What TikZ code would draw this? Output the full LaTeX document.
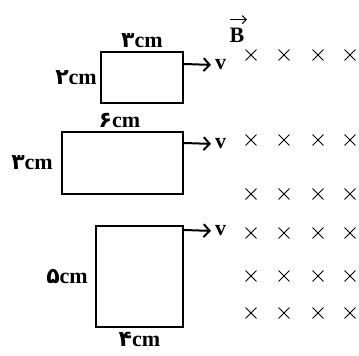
\documentclass[tikz,border=0pt]{standalone}
\usepackage{fontspec}
\setmainfont{Liberation Serif}
\newfontfamily\pdigfont{DejaVu Sans}
\newcommand\pdig[1]{{\pdigfont #1}}
\usetikzlibrary{positioning,arrows.meta,shapes.misc}
\begin{document}
\begin{tikzpicture}[x=1pt,y=1pt,
    loopbox/.style={draw,line width=2pt,inner sep=0pt},
    lbl/.style={font=\fontsize{22}{22}\selectfont\bfseries,inner sep=1pt},
    vel/.style={line width=2pt,-{Straight Barb[length=6pt,width=13pt,line width=2pt]}},
    fieldx/.style={cross out,draw,line width=0.9pt,minimum size=10pt,inner sep=0pt}]
    \useasboundingbox (0,0) rectangle (359,356);
    % loops
    \node[loopbox,minimum width=82pt,minimum height=51pt] (r1) at (142,278.5) {};
    \node[loopbox,minimum width=121pt,minimum height=62pt] (r2) at (122.5,193) {};
    \node[loopbox,minimum width=87pt,minimum height=101pt] (r3) at (139.5,79.5) {};
    % sizes
    \node[lbl,above=2pt of r1] (w1) {\pdig{۳}cm};
    \node[lbl,left=2pt of r1] (h1) {\pdig{۲}cm};
    \node[lbl,above=2pt of r2,xshift=-3pt] (w2) {\pdig{۶}cm};
    \node[lbl,left=7pt of r2] (h2) {\pdig{۳}cm};
    \node[lbl,left=6pt of r3] (h3) {\pdig{۵}cm};
    \node[lbl,below=3pt of r3] (w3) {\pdig{۴}cm};
    % velocities
    \coordinate (a1) at ([yshift=-13pt]r1.north east);
    \coordinate (a2) at ([yshift=-12pt]r2.north east);
    \coordinate (a3) at ([yshift=-5pt]r3.north east);
    \node[lbl,anchor=west] (v1) at (214,291) {v};
    \node[lbl,anchor=west] (v2) at (214,212) {v};
    \node[lbl,anchor=west] (v3) at (214,125) {v};
    \draw[vel,shorten >=3pt] (a1) -- (v1.west);
    \draw[vel,shorten >=3pt] (a2) -- (v2.west);
    \draw[vel,shorten >=3pt] (a3) -- (v3.west);
    % field
    \node[lbl] (bvec) at (237,321) {B};
    \draw[line width=1.1pt,-{Straight Barb[length=4pt,width=8pt,line width=1.1pt]}] ([xshift=-7pt,yshift=7pt]bvec.north) -- ([xshift=10pt,yshift=7pt]bvec.north);
    \foreach \y in {301,216,162,123,80,43}
        \foreach \x in {251,284,318,350}
            \node[fieldx] (x-\x-\y) at (\x,\y) {};
\end{tikzpicture}
\end{document}
